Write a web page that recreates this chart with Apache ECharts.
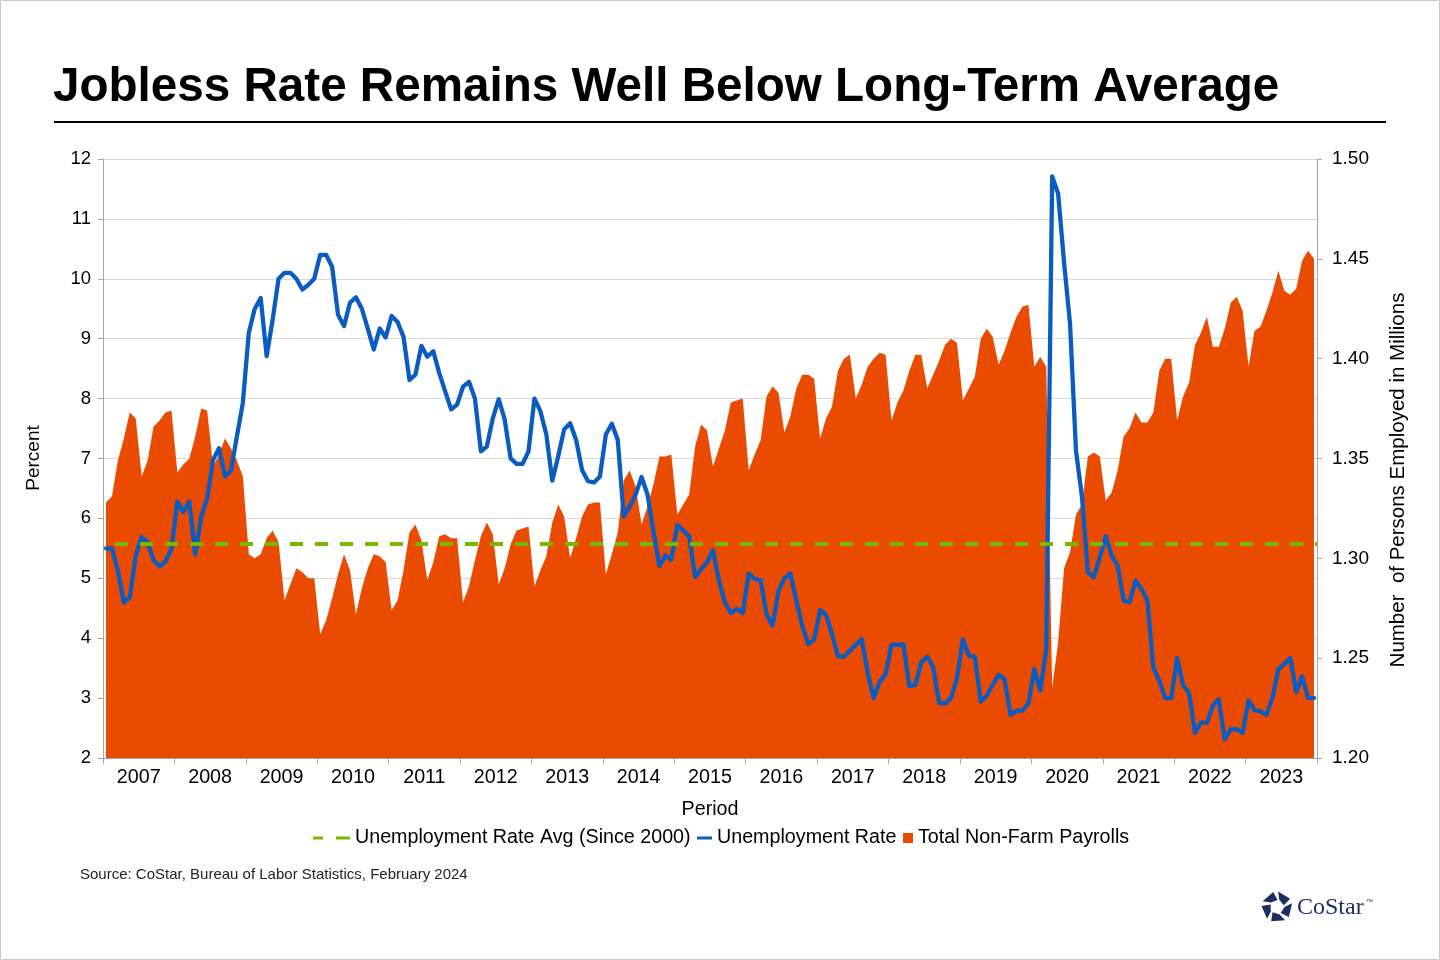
<!DOCTYPE html>
<html>
<head>
<meta charset="utf-8">
<script src="https://cdn.jsdelivr.net/npm/echarts@6/dist/echarts.min.js"></script>
<style>
  html, body { margin: 0; padding: 0; background: #fff; }
  #main { width: 1440px; height: 960px; }
</style>
</head>
<body>
<div id="main"></div>
<script>
// year labels on the x axis
const years = ['2007','2008','2009','2010','2011','2012','2013','2014','2015',
               '2016','2017','2018','2019','2020','2021','2022','2023'];

// unemployment rate, percent, monthly Jan 2007 - Dec 2023
const unemploymentRate = [
  5.5, 5.5, 5.13, 4.6, 4.68, 5.38, 5.69, 5.6, 5.3, 5.2, 5.28, 5.49,
  6.28, 6.11, 6.28, 5.4, 6.03, 6.33, 6.98, 7.17, 6.7, 6.8, 7.37, 7.93,
  9.1, 9.5, 9.68, 8.71, 9.31, 10.0, 10.1, 10.1, 10.0, 9.82, 9.9, 10.0,
  10.4, 10.4, 10.2, 9.4, 9.21, 9.6, 9.69, 9.5, 9.17, 8.82, 9.17, 9.02,
  9.38, 9.28, 9.03, 8.31, 8.4, 8.88, 8.7, 8.79, 8.43, 8.12, 7.82, 7.9,
  8.2, 8.28, 8.0, 7.12, 7.2, 7.67, 7.99, 7.65, 7.0, 6.91, 6.91, 7.12,
  8.0, 7.79, 7.4, 6.63, 7.04, 7.49, 7.59, 7.31, 6.81, 6.62, 6.6, 6.7,
  7.4, 7.58, 7.31, 6.03, 6.2, 6.4, 6.69, 6.4, 5.78, 5.21, 5.38, 5.31,
  5.89, 5.8, 5.7, 5.02, 5.15, 5.27, 5.47, 4.96, 4.6, 4.42, 4.49, 4.42,
  5.08, 4.99, 4.97, 4.4, 4.21, 4.79, 5.0, 5.08, 4.63, 4.21, 3.9, 3.98,
  4.47, 4.39, 4.07, 3.7, 3.69, 3.79, 3.89, 3.98, 3.42, 3.0, 3.27, 3.4,
  3.89, 3.89, 3.9, 3.2, 3.22, 3.6, 3.69, 3.52, 2.92, 2.91, 3.0, 3.33,
  3.98, 3.71, 3.69, 2.94, 3.04, 3.22, 3.39, 3.31, 2.72, 2.79, 2.79, 2.91,
  3.49, 3.13, 3.81, 11.71, 11.42, 10.27, 9.25, 7.13, 6.37, 5.1, 5.02, 5.35,
  5.7, 5.38, 5.21, 4.63, 4.6, 4.96, 4.82, 4.63, 3.51, 3.29, 3.0, 3.0,
  3.67, 3.21, 3.09, 2.42, 2.59, 2.59, 2.87, 2.98, 2.31, 2.48, 2.48, 2.42,
  2.96, 2.8, 2.78, 2.72, 3.0, 3.48, 3.57, 3.67, 3.1, 3.36, 3.0, 3.0
];

// total non-farm payrolls, millions, monthly Jan 2007 - Dec 2023
const payrolls = [
  1.328, 1.331, 1.349, 1.360, 1.373, 1.370, 1.341, 1.349, 1.366, 1.369, 1.373, 1.374,
  1.343, 1.347, 1.350, 1.361, 1.375, 1.374, 1.346, 1.352, 1.360, 1.355, 1.349, 1.341,
  1.302, 1.300, 1.302, 1.310, 1.314, 1.308, 1.279, 1.287, 1.295, 1.293, 1.290, 1.290,
  1.262, 1.269, 1.280, 1.292, 1.302, 1.294, 1.272, 1.285, 1.295, 1.302, 1.301, 1.298,
  1.274, 1.279, 1.294, 1.313, 1.317, 1.309, 1.289, 1.298, 1.311, 1.312, 1.310, 1.310,
  1.278, 1.286, 1.299, 1.311, 1.318, 1.312, 1.287, 1.295, 1.307, 1.314, 1.315, 1.316,
  1.286, 1.294, 1.301, 1.318, 1.327, 1.321, 1.300, 1.310, 1.321, 1.327, 1.328, 1.328,
  1.292, 1.302, 1.313, 1.339, 1.344, 1.336, 1.317, 1.326, 1.337, 1.351, 1.351, 1.352,
  1.322, 1.327, 1.332, 1.356, 1.367, 1.364, 1.346, 1.355, 1.364, 1.378, 1.379, 1.380,
  1.344, 1.352, 1.359, 1.381, 1.386, 1.383, 1.363, 1.371, 1.385, 1.392, 1.392, 1.390,
  1.360, 1.370, 1.376, 1.394, 1.400, 1.402, 1.380, 1.387, 1.396, 1.400, 1.403, 1.402,
  1.369, 1.378, 1.384, 1.394, 1.402, 1.402, 1.385, 1.392, 1.399, 1.407, 1.410, 1.408,
  1.379, 1.385, 1.391, 1.410, 1.415, 1.411, 1.397, 1.404, 1.413, 1.421, 1.426, 1.427,
  1.396, 1.401, 1.396, 1.235, 1.258, 1.295, 1.303, 1.322, 1.327, 1.351, 1.353, 1.351,
  1.329, 1.333, 1.344, 1.361, 1.365, 1.373, 1.368, 1.368, 1.373, 1.394, 1.400, 1.400,
  1.369, 1.381, 1.388, 1.407, 1.413, 1.421, 1.406, 1.406, 1.415, 1.428, 1.431, 1.424,
  1.396, 1.414, 1.416, 1.424, 1.433, 1.444, 1.434, 1.432, 1.435, 1.449, 1.454, 1.450
];

// long-term average unemployment rate (since 2000)
const avgRate = 5.58;

const monthNames = ['Jan','Feb','Mar','Apr','May','Jun','Jul','Aug','Sep','Oct','Nov','Dec'];
const months = [];
years.forEach(y => monthNames.forEach(m => months.push(m + ' ' + y)));

const FONT = 'Liberation Sans, Arial, sans-serif';
const ORANGE = '#E94B00';
const BLUE = '#0B5CC0';
const GREEN = '#7AB800';
const AXIS_GREY = '#A6A6A6';

const avgName = 'Unemployment Rate Avg (Since 2000)';
const rateName = 'Unemployment Rate';
const payName = 'Total Non-Farm Payrolls';

const chart = echarts.init(document.getElementById('main'), null, { renderer: 'canvas' });

const legendText = { fontFamily: FONT, fontSize: 19.7, color: '#000' };

const option = {
  backgroundColor: '#fff',
  animation: false,
  textStyle: { fontFamily: FONT },
  title: {
    text: 'Jobless Rate Remains Well Below Long-Term Average',
    left: 48,
    top: 59,
    textStyle: { fontFamily: FONT, fontSize: 47.6, fontWeight: 'bold', color: '#000' }
  },
  grid: { left: 103, right: 123, top: 159, bottom: 202, containLabel: false },
  legend: [
    {
      left: 313, top: 828, padding: 0, itemGap: 0,
      itemWidth: 37, itemHeight: 3,
      data: [{ name: avgName, icon: 'path://M0,0h10v3H0z M23,0h14v3H23z' }],
      textStyle: legendText, selectedMode: false
    },
    {
      left: 697, top: 828, padding: 0, itemGap: 0,
      itemWidth: 15, itemHeight: 3,
      data: [{ name: rateName, icon: 'rect' }],
      textStyle: legendText, selectedMode: false
    },
    {
      left: 903, top: 828, padding: 0, itemGap: 0,
      itemWidth: 10, itemHeight: 10,
      data: [{ name: payName, icon: 'rect' }],
      textStyle: legendText, selectedMode: false
    }
  ],
  xAxis: [
    {
      type: 'category',
      data: months,
      boundaryGap: true,
      axisLine: { show: true, lineStyle: { color: AXIS_GREY, width: 1 } },
      axisTick: {
        show: true, length: 6,
        interval: (idx) => idx % 12 === 0,
        lineStyle: { color: AXIS_GREY }
      },
      axisLabel: { show: false },
      splitLine: { show: false }
    },
    {
      type: 'category',
      data: years,
      position: 'bottom',
      boundaryGap: true,
      axisLine: { show: false },
      axisTick: { show: false },
      axisLabel: { fontFamily: FONT, fontSize: 19.7, color: '#000', margin: 10 },
      splitLine: { show: false },
      name: 'Period',
      nameLocation: 'middle',
      nameGap: 42,
      nameTextStyle: { fontFamily: FONT, fontSize: 19.7, color: '#000' }
    }
  ],
  yAxis: [
    {
      type: 'value',
      min: 2, max: 12, interval: 1,
      axisLine: { show: true, lineStyle: { color: AXIS_GREY } },
      axisTick: { show: true, length: 5, lineStyle: { color: AXIS_GREY } },
      axisLabel: { fontFamily: FONT, fontSize: 18.5, color: '#000', margin: 12 },
      splitLine: { show: true, lineStyle: { color: '#D9D9D9', width: 1 } }
    },
    {
      type: 'value',
      position: 'right',
      min: 1.20, max: 1.50, interval: 0.05,
      axisLine: { show: true, lineStyle: { color: AXIS_GREY } },
      axisTick: { show: true, length: 5, lineStyle: { color: AXIS_GREY } },
      axisLabel: {
        fontFamily: FONT, fontSize: 19, color: '#000', margin: 15,
        formatter: (v) => v.toFixed(2)
      },
      splitLine: { show: false }
    }
  ],
  series: [
    {
      name: payName,
      type: 'line',
      xAxisIndex: 0,
      yAxisIndex: 1,
      data: payrolls,
      symbol: 'none',
      lineStyle: { width: 0, color: ORANGE },
      itemStyle: { color: ORANGE },
      areaStyle: { color: ORANGE, opacity: 1 },
      z: 1
    },
    {
      name: rateName,
      type: 'line',
      xAxisIndex: 0,
      yAxisIndex: 0,
      data: unemploymentRate,
      symbol: 'none',
      lineStyle: { width: 4.3, color: BLUE, join: 'round', cap: 'round' },
      itemStyle: { color: BLUE },
      z: 3
    },
    {
      name: avgName,
      type: 'line',
      xAxisIndex: 0,
      yAxisIndex: 0,
      data: [],
      symbol: 'none',
      lineStyle: { color: GREEN },
      itemStyle: { color: GREEN },
      z: 4,
      markLine: {
        silent: true,
        symbol: 'none',
        label: { show: false },
        lineStyle: { color: GREEN, width: 4, type: [13, 12], dashOffset: 13 },
        data: [{ yAxis: avgRate }],
        z: 4
      }
    }
  ],
  graphic: [
    {
      type: 'rect', silent: true, z: -10,
      shape: { x: 0.5, y: 0.5, width: 1439, height: 959 },
      style: { fill: 'none', stroke: '#C8C8C8', lineWidth: 1 }
    },
    {
      type: 'line', silent: true,
      shape: { x1: 54, y1: 122, x2: 1386, y2: 122 },
      style: { stroke: '#000', lineWidth: 2 }
    },
    {
      type: 'text', silent: true,
      x: 34, y: 458, rotation: Math.PI / 2,
      style: { text: 'Percent', font: '19px ' + FONT, fill: '#000', align: 'center', verticalAlign: 'middle' }
    },
    {
      type: 'text', silent: true,
      x: 1398, y: 480, rotation: Math.PI / 2,
      style: { text: 'Number  of Persons Employed in Millions', font: '20.5px ' + FONT, fill: '#000', align: 'center', verticalAlign: 'middle' }
    },
    {
      type: 'text', silent: true,
      x: 80, y: 875,
      style: { text: 'Source: CoStar, Bureau of Labor Statistics, February 2024', font: '15px ' + FONT, fill: '#222', verticalAlign: 'middle' }
    },
    {
      type: 'group', silent: true, x: 1277, y: 907,
      children: (function () {
        const kids = [];
        const pt = (r, deg) => [r * Math.cos(deg * Math.PI / 180), r * Math.sin(deg * Math.PI / 180)];
        for (let k = 0; k < 5; k++) {
          const t = -90 + 72 * k;
          kids.push({
            type: 'polygon',
            shape: { points: [pt(15.5, t + 4), pt(15.5, t + 58), pt(7, t + 76), pt(7.5, t + 18)] },
            style: { fill: '#1C2D5E' }
          });
        }
        return kids;
      })()
    },
    {
      type: 'text', silent: true,
      x: 1297, y: 908,
      style: { text: 'CoStar', font: '24px "Liberation Serif", "DejaVu Serif", serif', fill: '#1C2D5E', verticalAlign: 'middle' }
    },
    {
      type: 'text', silent: true,
      x: 1366, y: 902,
      style: { text: '\u2122', font: '7px ' + FONT, fill: '#1C2D5E', verticalAlign: 'middle' }
    }
  ]
};

chart.setOption(option);
</script>
</body>
</html>
